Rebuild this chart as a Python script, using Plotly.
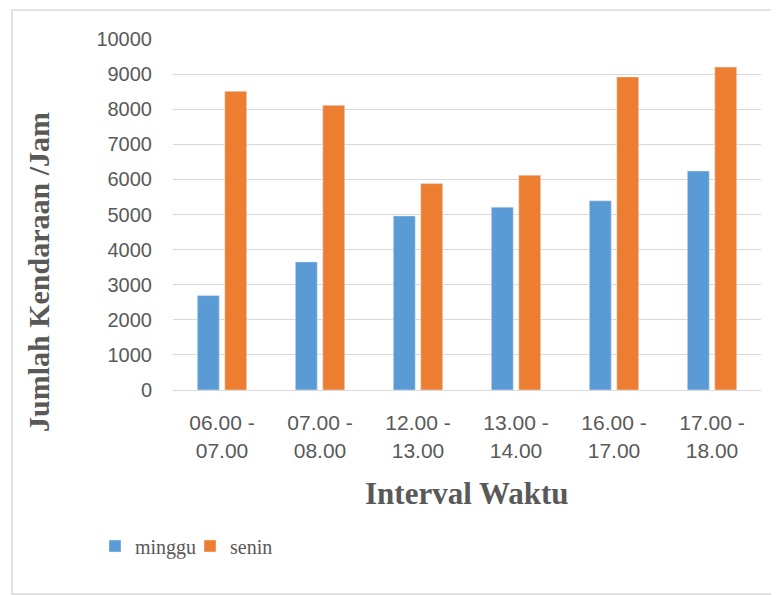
import plotly.graph_objects as go

categories = ["06.00 -<br>07.00", "07.00 -<br>08.00", "12.00 -<br>13.00",
              "13.00 -<br>14.00", "16.00 -<br>17.00", "17.00 -<br>18.00"]
minggu = [2690, 3650, 4960, 5210, 5390, 6240]
senin = [8510, 8110, 5880, 6120, 8920, 9200]
y_ticks = list(range(0, 10001, 1000))
y_ticktext = [str(v) for v in y_ticks]

fig = go.Figure()
fig.add_trace(go.Bar(name="minggu", x=categories, y=minggu, marker_color="#5b9bd5"))
fig.add_trace(go.Bar(name="senin", x=categories, y=senin, marker_color="#ed7d31"))

# page is offset by the 8px body margin; targets below are in screenshot pixels
OFF = 8
W, H = 779, 595
L, T = 173 - OFF, 39 - OFF
RIGHT, BOTTOM = 761 - OFF, 390 - OFF
pw = RIGHT - L
ph = BOTTOM - T

def px(x):
    return (x - OFF - L) / pw

def py(y):
    return (BOTTOM - (y - OFF)) / ph

fig.update_layout(
    width=W, height=H,
    margin=dict(l=L, r=W - RIGHT, t=T, b=H - BOTTOM, autoexpand=False),
    paper_bgcolor="white", plot_bgcolor="white",
    barmode="group", bargap=0.44, bargroupgap=0.2,
    font=dict(family="Liberation Sans", color="#595959", size=20),
    showlegend=True,
    legend=dict(orientation="h", x=px(95), y=py(546), xanchor="left", yanchor="middle",
                font=dict(family="Liberation Serif", size=20, color="#595959"),
                itemwidth=30, entrywidth=50, traceorder="normal"),
    xaxis=dict(showgrid=False, showline=True, linecolor="#d9d9d9", linewidth=1,
               tickfont=dict(size=21, color="#595959"), ticks="", ticklabelstandoff=14),
    yaxis=dict(range=[0, 10000], tickvals=y_ticks, ticktext=y_ticktext, showgrid=True,
               gridcolor="#d9d9d9", gridwidth=1, zeroline=False, showline=False, ticks="",
               tickfont=dict(size=20, color="#595959"), ticklabelstandoff=20),
    shapes=[dict(type="rect", xref="paper", yref="paper",
                 x0=px(12), x1=px(778), y0=py(594), y1=py(10),
                 line=dict(color="#d9d9d9", width=1.5), fillcolor="rgba(0,0,0,0)", layer="below")],
    annotations=[
        dict(text="<b>Interval Waktu</b>", xref="paper", yref="paper", x=px(467), y=py(493),
             showarrow=False, xanchor="center", yanchor="middle",
             font=dict(family="Liberation Serif", size=31, color="#595959")),
        dict(text="<b>Jumlah Kendaraan /Jam</b>", xref="paper", yref="paper", x=px(38), y=py(272),
             showarrow=False, xanchor="center", yanchor="middle", textangle=-90,
             font=dict(family="Liberation Serif", size=30, color="#595959")),
    ],
)

fig.write_html("out.html")
